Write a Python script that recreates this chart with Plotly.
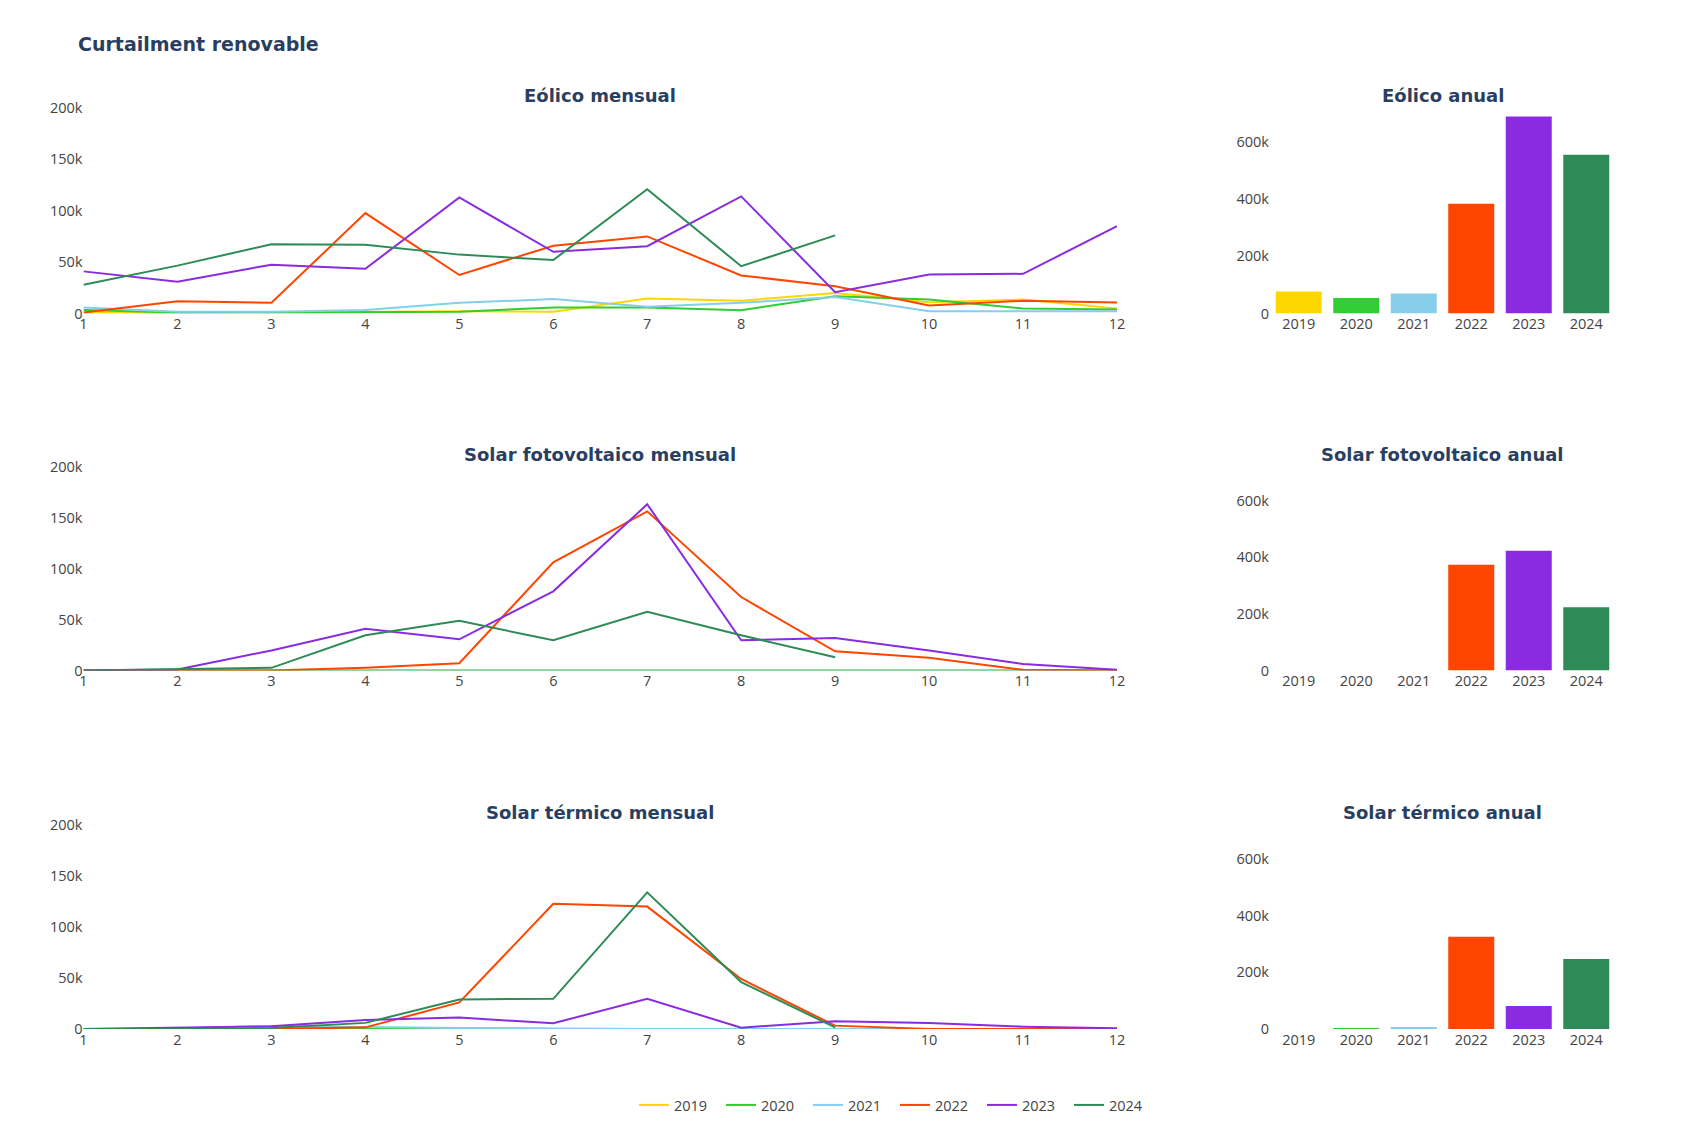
import plotly.graph_objects as go

# ---------------- data ----------------
months = [1, 2, 3, 4, 5, 6, 7, 8, 9, 10, 11, 12]
years = ["2019", "2020", "2021", "2022", "2023", "2024"]
colors = ["#FFD700", "#32CD32", "#87CEEB", "#FF4500", "#8A2BE2", "#2E8B57"]

eolico_2019 = [1000, 500, 1000, 1600, 2300, 1600, 14600, 12300, 20000, 11000, 13600, 4900]
eolico_2020 = [3300, 1000, 1000, 1600, 1600, 5900, 5800, 3200, 16900, 13600, 4900, 3900]
eolico_2021 = [5900, 1600, 1600, 3300, 10400, 14000, 6500, 10400, 16000, 2300, 2300, 2300]
eolico_2022 = [1000, 12000, 10400, 97700, 37500, 66000, 75000, 37000, 26500, 7800, 12300, 10700]
eolico_2023 = [41000, 31000, 47500, 43500, 113000, 60000, 65500, 114000, 20800, 38000, 38600, 85000]
eolico_2024 = [28000, 46600, 67400, 66800, 57300, 52000, 121000, 46000, 76000]

pv_2019 = [0, 0, 0, 0, 0, 0, 0, 0, 0, 0, 0, 0]
pv_2020 = [0, 0, 0, 0, 0, 0, 0, 0, 0, 0, 0, 0]
pv_2021 = [0, 0, 0, 0, 0, 0, 0, 0, 0, 0, 0, 0]
pv_2022 = [0, 0, 0, 2600, 7200, 106000, 156000, 72000, 18800, 12500, 700, 0]
pv_2023 = [0, 1000, 19700, 40800, 30600, 77600, 163000, 29600, 31900, 19700, 6300, 700]
pv_2024 = [0, 1000, 2600, 34500, 48700, 29600, 57600, 34500, 13000]

st_2019 = [0, 0, 0, 0, 0, 0, 0, 0, 0, 0, 0, 0]
st_2020 = [0, 0, 500, 1000, 500, 0, 0, 0, 0, 0, 0, 0]
st_2021 = [0, 500, 3000, 2000, 500, 0, 0, 0, 0, 0, 0, 0]
st_2022 = [0, 0, 0, 1600, 26000, 122700, 120000, 49000, 3300, 0, 0, 0]
st_2023 = [0, 1600, 2600, 8900, 11200, 5600, 29600, 1300, 7600, 5900, 2300, 700]
st_2024 = [0, 0, 1000, 6000, 29000, 29600, 134000, 46000, 1600]

eolico_anual = [76900, 54500, 70000, 384600, 690000, 556000]
pv_anual = [0, 0, 0, 373000, 423000, 223000]
st_anual = [0, 2000, 4000, 326000, 81000, 247000]

rows = [
    ("Eólico", [eolico_2019, eolico_2020, eolico_2021, eolico_2022, eolico_2023, eolico_2024], eolico_anual),
    ("Solar fotovoltaico", [pv_2019, pv_2020, pv_2021, pv_2022, pv_2023, pv_2024], pv_anual),
    ("Solar térmico", [st_2019, st_2020, st_2021, st_2022, st_2023, st_2024], st_anual),
]

# ---------------- layout helpers (screen px -> paper) ----------------
OFF = 8
W, H = 1706 - 2 * OFF, 1136 - 2 * OFF


def fx(px):
    return (px - OFF) / W


def fy(py):
    return 1 - (py - OFF) / H


line_x = [fx(83.5), fx(1117)]
bar_x = [fx(1270), fx(1615)]
row_y = [(108, 313.5), (466.5, 670.5), (825, 1029)]

FONT = "Open Sans, Arial, sans-serif"
TFONT = "Verdana, DejaVu Sans, sans-serif"
TICK = dict(family=FONT, size=14.5, color="#444")
TITLE_COLOR = "#2a3f5f"

fig = go.Figure()
annotations = []
layout_axes = {}

for r, (name, series, anual) in enumerate(rows):
    xl = 2 * r + 1
    xb = 2 * r + 2
    xl_name = "x" if xl == 1 else f"x{xl}"
    yl_name = "y" if xl == 1 else f"y{xl}"
    xb_name = f"x{xb}"
    yb_name = f"y{xb}"
    for i, vals in enumerate(series):
        fig.add_trace(go.Scatter(
            x=months[:len(vals)], y=vals, mode="lines", name=years[i],
            line=dict(color=colors[i], width=2), legendgroup=years[i],
            showlegend=(r == 0), xaxis=xl_name, yaxis=yl_name,
        ))
    fig.add_trace(go.Bar(
        x=years, y=anual, marker=dict(color=colors, line=dict(width=0)),
        showlegend=False, xaxis=xb_name, yaxis=yb_name,
    ))
    top, bot = row_y[r]
    ydom = [fy(bot), fy(top)]
    ax_common = dict(showgrid=False, zeroline=False, showline=False, ticks="",
                     automargin=False, tickfont=TICK)
    layout_axes[f"xaxis{'' if xl == 1 else xl}"] = dict(
        domain=line_x, anchor=yl_name, range=[1, 12], dtick=1, tick0=1, **ax_common)
    layout_axes[f"yaxis{'' if xl == 1 else xl}"] = dict(
        domain=ydom, anchor=xl_name, range=[0, 200000], dtick=50000, **ax_common)
    layout_axes[f"xaxis{xb}"] = dict(
        domain=bar_x, anchor=yb_name, type="category", **ax_common)
    layout_axes[f"yaxis{xb}"] = dict(
        domain=ydom, anchor=xb_name, range=[0, 720000], dtick=200000, **ax_common)
    for txt, dom in ((f"{name} mensual", line_x), (f"{name} anual", bar_x)):
        annotations.append(dict(
            text=f"<b>{txt}</b>", x=(dom[0] + dom[1]) / 2, y=ydom[1],
            xref="paper", yref="paper", xanchor="center", yanchor="bottom",
            showarrow=False, font=dict(family=TFONT, size=18, color=TITLE_COLOR),
        ))

fig.update_layout(
    width=W, height=H,
    template="plotly_white",
    margin=dict(l=0, r=0, t=0, b=0),
    paper_bgcolor="white", plot_bgcolor="white",
    font=dict(family=FONT, size=14.5, color="#444"),
    title=dict(text="<b>Curtailment renovable</b>", x=fx(78), xanchor="left", xref="paper",
               y=fy(44.6), yanchor="middle", yref="paper",
               font=dict(family=TFONT, size=19, color=TITLE_COLOR)),
    legend=dict(orientation="h", x=fx(895), xanchor="center", y=fy(1105), yanchor="middle",
                font=dict(family=FONT, size=14.5, color="#444"), bgcolor="rgba(0,0,0,0)",
                entrywidth=42),
    bargap=0.2,
    annotations=annotations,
    showlegend=True,
    **layout_axes,
)

fig.write_html("out.html")
